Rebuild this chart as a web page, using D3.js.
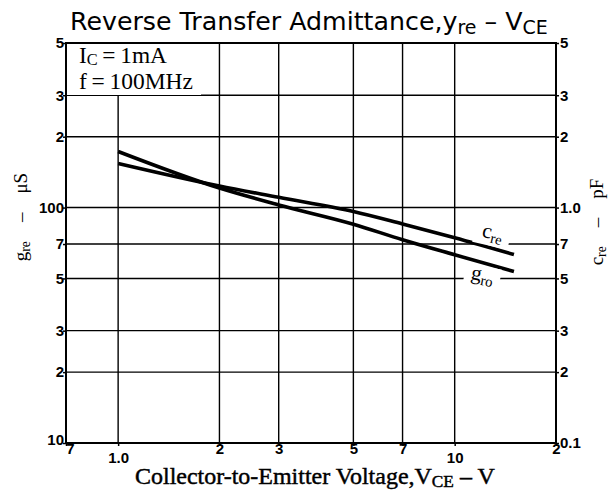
<!DOCTYPE html>
<html><head><meta charset="utf-8">
<script src="https://cdn.jsdelivr.net/npm/d3@7"></script>
<style>body{margin:0;background:#fff;} svg{display:block;}</style>
</head><body>
<svg id="c" width="614" height="491"></svg>
<script>
// ---- data ----
const vce = [1, 2, 3, 5, 7, 10, 15];
const creValues = [1.54, 1.235, 1.105, 0.962, 0.852, 0.745, 0.632];   // pF (right axis)
const groValues = [173, 121, 102.6, 85, 73, 63, 53.5];               // uS (left axis)
const xTicks = [0.7, 1, 2, 3, 5, 7, 10, 20];
const xTickLabels = ["7", "1.0", "2", "3", "5", "7", "10", "2"];
const xGrid = [1, 2, 3, 5, 7, 10];
const yLeftTicks = [10, 20, 30, 50, 70, 100, 200, 300, 500];
const yLeftLabels = ["10", "2", "3", "5", "7", "100", "2", "3", "5"];
const yRightTicks = [0.1, 0.2, 0.3, 0.5, 0.7, 1, 2, 3, 5];
const yRightLabels = ["0.1", "2", "3", "5", "7", "1.0", "2", "3", "5"];
const yGrid = [20, 30, 50, 70, 100, 200, 300];

const L = 66, R = 556, T = 43, B = 443;
const svg = d3.select("#c");
const x = d3.scaleLog().domain([0.7, 20]).range([L, R]);
const yL = d3.scaleLog().domain([10, 500]).range([B, T]);
const yR = d3.scaleLog().domain([0.1, 5]).range([B, T]);

const sans = "'Liberation Sans', Arial, sans-serif";
const serif = "'Liberation Serif', 'DejaVu Serif', serif";

// fit helper
function fit(sel, w) {
  const cur = sel.node().getComputedTextLength();
  const fs = parseFloat(sel.attr("font-size"));
  sel.attr("font-size", fs * w / cur);
}

// gridlines
const g = svg.append("g").attr("stroke", "#000").attr("stroke-width", 1.4);
g.selectAll(".vg").data(xGrid).enter().append("line")
  .attr("x1", d => x(d)).attr("x2", d => x(d)).attr("y1", T).attr("y2", B);
g.selectAll(".hg").data(yGrid).enter().append("line")
  .attr("x1", L).attr("x2", R).attr("y1", d => yL(d)).attr("y2", d => yL(d));

// legend box (covers grid)
svg.append("rect").attr("x", L + 1).attr("y", T + 1).attr("width", 134).attr("height", 51).attr("fill", "#fff");
const leg = svg.append("g").attr("font-family", serif).attr("fill", "#000");
const t1 = leg.append("text").attr("x", 79).attr("y", 63).attr("font-size", 17);
t1.append("tspan").text("I");
t1.append("tspan").attr("font-size", "0.7em").attr("dy", 2).text("C");
t1.append("tspan").attr("dy", -2).text("\u2009=\u20091mA");
fit(t1, 88);
const t2 = leg.append("text").attr("x", 79).attr("y", 89).attr("font-size", 17).text("f\u2009=\u2009100MHz");
fit(t2, 114);

// data lines
const line = d3.line().curve(d3.curveMonotoneX);
svg.append("path").datum(vce.map((v, i) => [x(v), yR(creValues[i])]))
  .attr("d", line).attr("fill", "none").attr("stroke", "#000").attr("stroke-width", 3.6);
svg.append("path").datum(vce.map((v, i) => [x(v), yL(groValues[i])]))
  .attr("d", line).attr("fill", "none").attr("stroke", "#000").attr("stroke-width", 3.6);

// curve labels
function curveLabel(main, sub, cx, cy, rot, gapW) {
  svg.append("rect").attr("x", cx - gapW / 2).attr("y", cy - 12).attr("width", gapW).attr("height", 22)
    .attr("fill", "#fff").attr("transform", `rotate(${rot},${cx},${cy})`);
  const t = svg.append("text").attr("font-family", serif).attr("font-size", 21)
    .attr("text-anchor", "middle").attr("transform", `translate(${cx},${cy}) rotate(${rot})`).attr("y", 3);
  t.append("tspan").text(main);
  t.append("tspan").attr("font-size", "0.7em").attr("dy", 4).text(sub);
}
curveLabel("c", "re", 492, 236, 13, 36);
curveLabel("g", "ro", 482, 278, 11, 36);

// border
svg.append("rect").attr("x", L).attr("y", T).attr("width", R - L).attr("height", B - T)
  .attr("fill", "none").attr("stroke", "#000").attr("stroke-width", 2);

// axes
const axL = d3.axisLeft(yL).tickValues(yLeftTicks).tickSize(3).tickFormat((d, i) => yLeftLabels[i]);
const aL = svg.append("g").attr("transform", `translate(${L},0)`).call(axL);
const axR = d3.axisRight(yR).tickValues(yRightTicks).tickSize(3).tickFormat((d, i) => yRightLabels[i]);
const aR = svg.append("g").attr("transform", `translate(${R},0)`).call(axR);
const axB = d3.axisBottom(x).tickValues(xTicks).tickSize(3).tickFormat((d, i) => xTickLabels[i]);
const aB = svg.append("g").attr("transform", `translate(0,${B})`).call(axB);
[aL, aR, aB].forEach(a => {
  a.select(".domain").remove();
  a.selectAll(".tick line").attr("stroke", "#000").attr("stroke-width", 1.5);
  a.selectAll("text").attr("font-family", sans).attr("font-weight", "bold").attr("font-size", 15).attr("fill", "#000");
});
aL.selectAll(".tick text").attr("x", -2).attr("dy", (d, i) => i === 0 ? "0.1em" : "0.32em");
aR.selectAll(".tick text").attr("x", 4);
aB.selectAll(".tick text").attr("y", (d, i) => xTickLabels[i].length > 1 ? 9 : 0)
  .attr("dx", (d, i) => i === 0 ? 4 : 0);

// title
const title = svg.append("text").attr("x", 70).attr("y", 30).attr("font-family", "'DejaVu Sans', sans-serif")
  .attr("font-size", 20).attr("fill", "#000");
title.append("tspan").text("Reverse Transfer Admittance,y");
title.append("tspan").attr("font-size", "0.75em").attr("dy", 4).text("re");
title.append("tspan").attr("dy", -4).text("  \u2013  V");
title.append("tspan").attr("font-size", "0.75em").attr("dy", 4).text("CE");
fit(title, 478);

// x axis title
const xt = svg.append("text").attr("x", 135).attr("y", 484).attr("font-family", serif)
  .attr("font-size", 17).attr("fill", "#000").attr("stroke", "#000").attr("stroke-width", 0.45);
xt.append("tspan").text("Collector-to-Emitter Voltage,V");
xt.append("tspan").attr("font-size", "0.72em").attr("dy", 3).text("CE");
xt.append("tspan").attr("dy", -3).text(" \u2013 V");
fit(xt, 360);

// y axis titles
function yTitle(cx, cy, main, sub, unit) {
  const t = svg.append("text").attr("transform", `translate(${cx},${cy}) rotate(-90)`)
    .attr("text-anchor", "middle").attr("font-family", serif).attr("font-size", 19).attr("fill", "#000");
  t.append("tspan").text(main);
  t.append("tspan").attr("font-size", "0.72em").attr("dy", 3).text(sub);
  t.append("tspan").attr("dy", -3).text("\u2002\u2002\u2013\u2002\u2002" + unit);
}
yTitle(27, 217, "g", "re", "\u03bcS");
yTitle(603, 222, "c", "re", "pF");
</script>
</body></html>
